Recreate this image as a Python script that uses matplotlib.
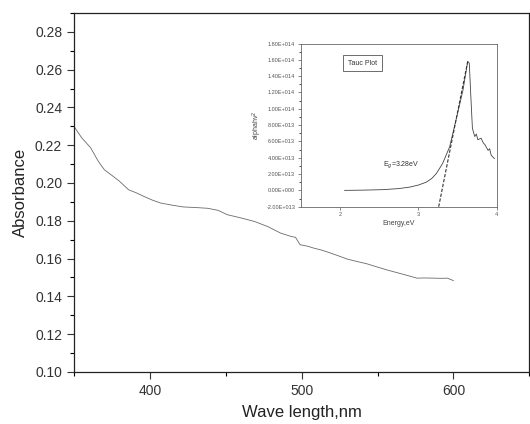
import matplotlib
matplotlib.use("Agg")
import matplotlib.pyplot as plt
from matplotlib.ticker import MultipleLocator

plt.rcParams['font.family'] = ['Liberation Sans', 'DejaVu Sans']

# Main spectrum
wavelength = [350, 355, 361, 366, 370, 375, 380, 386, 391, 396, 402, 407, 415, 422,
              430, 438, 445, 451, 460, 469, 478, 486, 493, 496, 499, 504, 508, 513,
              519, 525, 530, 536, 543, 549, 556, 562, 568, 572, 576, 581, 587, 592,
              596, 600]
absorbance = [0.230, 0.224, 0.2186, 0.2115, 0.207, 0.204, 0.2009, 0.1964, 0.1948,
              0.1929, 0.1908, 0.1894, 0.1882, 0.1873, 0.1870, 0.1866, 0.1855, 0.1832,
              0.1815, 0.1796, 0.1768, 0.1735, 0.1717, 0.1712, 0.1673, 0.1665, 0.1655,
              0.1645, 0.1629, 0.1612, 0.1597, 0.1585, 0.1572, 0.1557, 0.1540, 0.1527,
              0.1514, 0.1505, 0.1496, 0.1497, 0.1496, 0.1495, 0.1496, 0.1483]

# Tauc plot inset
energy = [2.06, 2.30, 2.55, 2.75, 2.89, 3.00, 3.10, 3.17, 3.23, 3.31, 3.40, 3.48,
          3.57, 3.63, 3.65, 3.67, 3.69, 3.72, 3.74, 3.76, 3.80, 3.83, 3.85, 3.89,
          3.91, 3.93, 3.97]
tauc = [0.0, 0.03e13, 0.09e13, 0.22e13, 0.4e13, 0.65e13, 1.0e13, 1.45e13, 2.06e13,
        3.3e13, 5.35e13, 8.6e13, 12.3e13, 15.8e13, 15.6e13, 11.5e13, 7.6e13, 6.6e13,
        6.9e13, 6.2e13, 6.4e13, 5.8e13, 5.6e13, 4.9e13, 5.1e13, 4.3e13, 3.9e13]
tangent_e = [3.26, 3.63]
tangent_y = [-2.0e13, 15.8e13]
inset_yticks = [-2e13, 0, 2e13, 4e13, 6e13, 8e13, 10e13, 12e13, 14e13, 16e13, 18e13]
inset_yticklabels = ['-2.00E+013', '0.00E+000', '2.00E+013', '4.00E+013', '6.00E+013',
                     '8.00E+013', '1.00E+014', '1.20E+014', '1.40E+014', '1.60E+014',
                     '1.80E+014']
inset_xticks = [2, 3, 4]

fig = plt.figure(figsize=(5.3, 4.24), dpi=100)
ax = fig.add_axes([0.1396, 0.1231, 0.8590, 0.8462])
ax.plot(wavelength, absorbance, color='#6a6a6a', lw=0.6)
ax.set_xlim(350, 650)
ax.set_ylim(0.10, 0.29)
ax.set_xticks([400, 500, 600])
ax.xaxis.set_minor_locator(MultipleLocator(50))
ax.set_yticks([0.10, 0.12, 0.14, 0.16, 0.18, 0.20, 0.22, 0.24, 0.26, 0.28])
ax.yaxis.set_minor_locator(MultipleLocator(0.01))
ax.tick_params(which='major', length=5, width=0.8, labelsize=10, colors='#333333')
ax.tick_params(which='minor', length=3, width=0.8)
ax.set_xlabel('Wave length,nm', fontsize=12, color='#222222', labelpad=5)
ax.set_ylabel('Absorbance', fontsize=12, color='#222222', labelpad=5)
for s in ax.spines.values():
    s.set_linewidth(0.9)
    s.set_color('#222222')

ins = fig.add_axes([0.5674, 0.5125, 0.3698, 0.3849])
ins.plot(energy, tauc, color='#444444', lw=0.6)
ins.plot(tangent_e, tangent_y, color='#333333', lw=0.8, ls=(0, (3, 1.5)))
ins.set_xlim(1.5, 4.0)
ins.set_ylim(-2e13, 18e13)
ins.set_xticks(inset_xticks)
ins.set_xticklabels([str(t) for t in inset_xticks])
ins.set_yticks(inset_yticks)
ins.set_yticklabels(inset_yticklabels)
ins.yaxis.set_minor_locator(MultipleLocator(1e13))
ins.tick_params(which='major', length=2.5, width=0.5, labelsize=4, colors='#555555', pad=1.5)
ins.tick_params(which='minor', length=1.5, width=0.5)
ins.set_xlabel('Energy,eV', fontsize=5, color='#444444', labelpad=2)
ins.set_ylabel('alphahv$^2$', fontsize=5, color='#444444', labelpad=2)
for s in ins.spines.values():
    s.set_linewidth(0.6)
    s.set_color('#666666')
ins.text(2.1, 15.6e13, 'Tauc Plot', fontsize=5, color='#333333', va='center',
         bbox=dict(boxstyle='square,pad=0.7', fc='white', ec='#555555', lw=0.6))
ins.text(2.55, 3.1e13, 'E$_g$=3.28eV', fontsize=5, color='#333333', va='center')

fig.savefig('out.png', dpi=100)
